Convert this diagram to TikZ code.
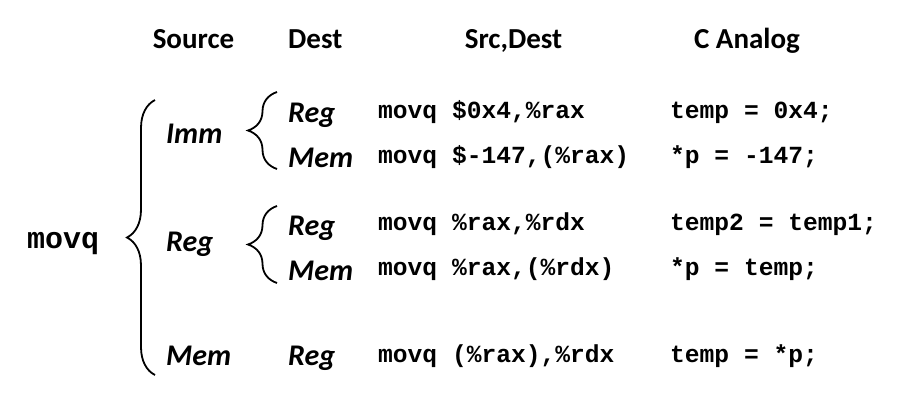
\documentclass[tikz,border=0pt]{standalone}
\usepackage{fontspec}
\setmainfont{Carlito}
\setmonofont{Liberation Mono}
\usetikzlibrary{decorations.pathreplacing}
\begin{document}
\begin{tikzpicture}[x=1pt,y=-1pt,
  hdr/.style={inner sep=0pt,anchor=base,font=\fontsize{29}{32}\selectfont\bfseries},
  lbl/.style={inner sep=0pt,anchor=base west,font=\fontsize{30}{34}\selectfont\bfseries\itshape},
  code/.style={inner sep=0pt,anchor=base west,font=\fontsize{24.6}{28}\selectfont\ttfamily\bfseries},
  bigcode/.style={inner sep=0pt,anchor=base west,font=\fontsize{30}{34}\selectfont\ttfamily\bfseries},
  curly/.style={draw,line width=1.8pt,decorate,decoration={brace,amplitude=#1,aspect=0.5}}]
\useasboundingbox (0,0) rectangle (902,400);
% headers
\node[hdr] (hsrc) at (193.5,48) {Source};
\node[hdr,anchor=base west] (hdst) at (288,48) {Dest};
\node[hdr] (hsd) at (513.5,48) {Src,Dest};
\node[hdr] (hc) at (747,48) {C Analog};
% left
\node[bigcode] (movq) at (27,248) {movq};
% source labels
\node[lbl] (simm) at (166,143) {Imm};
\node[lbl] (sreg) at (166,251) {Reg};
\node[lbl] (smem) at (166,365) {Mem};
% dest labels
\node[lbl] (d1) at (288,122) {Reg};
\node[lbl] (d2) at (288,167) {Mem};
\node[lbl] (d3) at (288,235) {Reg};
\node[lbl] (d4) at (288,280) {Mem};
\node[lbl] (d5) at (288,365) {Reg};
% code
\node[code] (c1) at (378,118) {movq \$0x4,\%rax};
\node[code] (c2) at (378,163) {movq \$-147,(\%rax)};
\node[code] (c3) at (378,230) {movq \%rax,\%rdx};
\node[code] (c4) at (378,275) {movq \%rax,(\%rdx)};
\node[code] (c5) at (378,362) {movq (\%rax),\%rdx};
% C analog
\node[code] (a1) at (670,118) {temp = 0x4;};
\node[code] (a2) at (670,163) {*p = -147;};
\node[code] (a3) at (670,230) {temp2 = temp1;};
\node[code] (a4) at (670,275) {*p = temp;};
\node[code] (a5) at (670,362) {temp = *p;};
% braces
\coordinate (bbT) at (155,100);
\coordinate (bbB) at (155,375);
\coordinate (b1T) at (277,92);
\coordinate (b1B) at (277,169);
\coordinate (b2T) at (277,206);
\coordinate (b2B) at (277,283);
\draw[curly=28] (bbB) -- (bbT);
\draw[curly=29] (b1B) -- (b1T);
\draw[curly=29] (b2B) -- (b2T);
\end{tikzpicture}
\end{document}
